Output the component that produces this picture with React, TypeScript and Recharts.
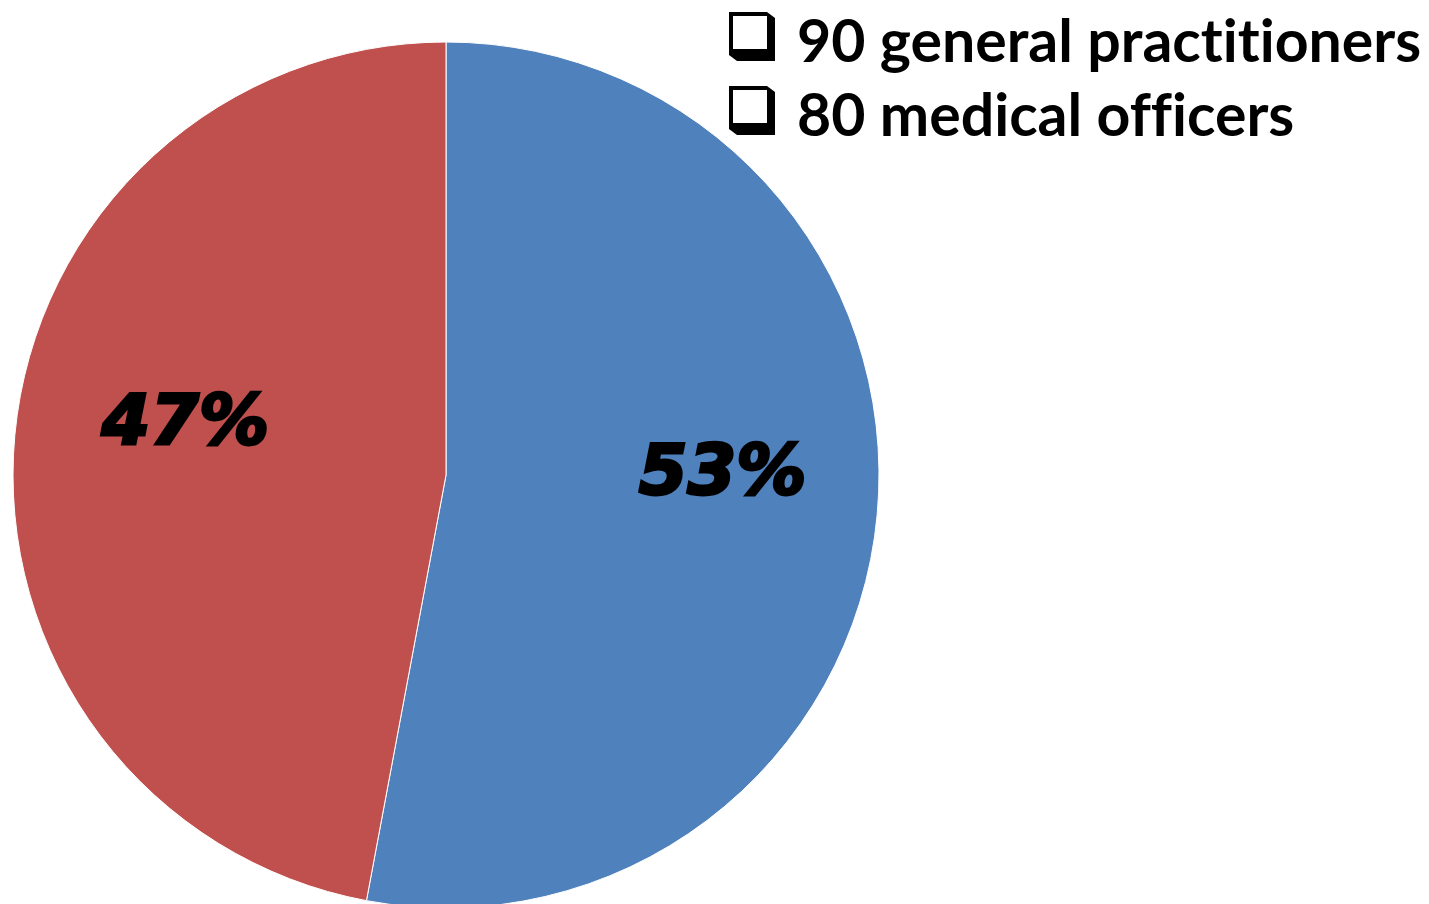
import { PieChart, Pie, Cell, Legend } from 'recharts';

const groups = ['90 general practitioners', '80 medical officers'];
const counts = [90, 80];
const labels = ['53%', '47%'];
const colors = ['#4F81BD', '#C0504D'];

const chartData = groups.map((name, i) => ({
  name,
  value: counts[i],
  label: labels[i],
  color: colors[i],
}));

const RADIAN = Math.PI / 180;

// percent labels sit a bit inside the slice and somewhat above the mid angle
const renderLabel = (props: any) => {
  const { cx, cy, midAngle, outerRadius, index } = props;
  const r = outerRadius * 0.623;
  const x = cx + r * Math.cos(-midAngle * RADIAN) + 8;
  const y = cy + r * Math.sin(-midAngle * RADIAN) - 30;
  return (
    <text
      x={x}
      y={y}
      textAnchor="middle"
      dominantBaseline="central"
      fill="#000"
      stroke="#000"
      strokeWidth={3}
      fontFamily="'DejaVu Sans', sans-serif"
      fontWeight="bold"
      fontStyle="italic"
      fontSize={70}
    >
      {chartData[index].label}
    </text>
  );
};

const ShadowBox = () => (
  <svg width={48} height={50} style={{ display: 'block' }}>
    <polygon points="0,0 38,0 46,6 46,49 8,49 0,43" fill="#000" />
    <rect x={4} y={4} width={34} height={33} fill="#fff" />
  </svg>
);

const renderLegend = () => (
  <div>
    {chartData.map((d) => (
      <div key={d.name} style={{ display: 'flex', alignItems: 'center', height: 74 }}>
        <ShadowBox />
        <span
          style={{
            marginLeft: 20,
            fontFamily: 'Lato, sans-serif',
            fontWeight: 700,
            fontSize: 59,
            fontVariantLigatures: 'none',
            color: '#000',
            whiteSpace: 'nowrap',
            position: 'relative',
            top: 2,
          }}
        >
          {d.name}
        </span>
      </div>
    ))}
  </div>
);

export default function App() {
  return (
    <div style={{ position: 'absolute', left: 0, top: 0, width: 1429, height: 904, background: '#fff' }}>
      <PieChart width={1429} height={904} margin={{ top: 0, right: 0, bottom: 0, left: 0 }}>
        <Pie
          data={chartData}
          dataKey="value"
          cx={446}
          cy={475}
          outerRadius={433}
          startAngle={90}
          endAngle={-270}
          stroke="#fff"
          strokeWidth={1}
          label={renderLabel}
          labelLine={false}
          isAnimationActive={false}
        >
          {chartData.map((entry, index) => (
            <Cell key={`cell-${index}`} fill={entry.color} />
          ))}
        </Pie>
        <Legend
          content={renderLegend}
          wrapperStyle={{ position: 'absolute', left: 729, top: 0, width: 700 }}
        />
      </PieChart>
    </div>
  );
}
